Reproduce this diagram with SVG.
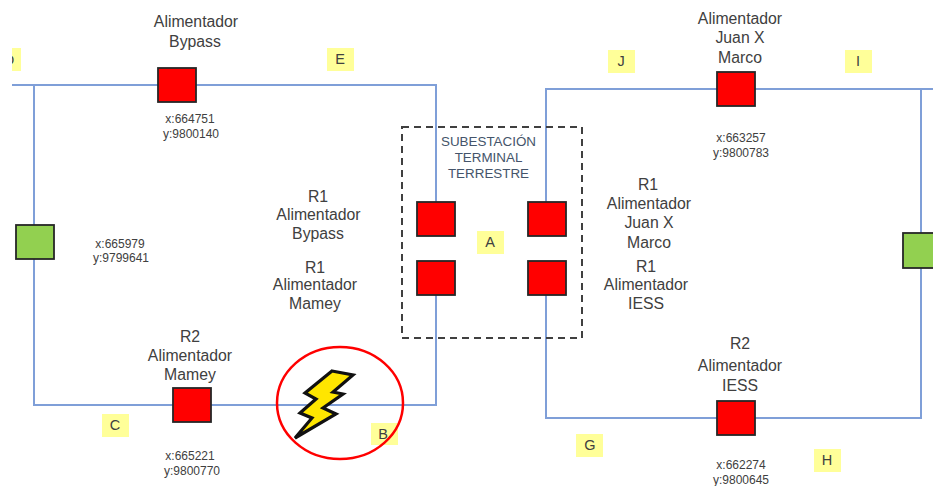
<svg xmlns="http://www.w3.org/2000/svg" width="933" height="486" viewBox="0 0 933 486">
<style>
text{font-family:"Liberation Sans",Arial,sans-serif;fill:#404040;text-anchor:middle}
.t{font-size:15.8px}
.c{font-size:12px}
.s{font-size:13.4px;fill:#44546a}
.l{font-size:14.5px}
.y{fill:#ffff99}
.r{fill:#ff0000;stroke:#262626;stroke-width:1.8}
.g{fill:#92d050;stroke:#262626;stroke-width:1.8}
.w{fill:none;stroke:#7f9fd8;stroke-width:2}
</style>
<defs><clipPath id="edge"><rect x="12" y="48" width="9" height="23"/></clipPath></defs>
<g id="connectors">
<path class="w" d="M436 202V85H12M34 85V405H436V295"/>
<path class="w" d="M546 202V89H933M921 89V418H546V295"/>
</g>
<g id="substation">
<rect x="402" y="127" width="180" height="211" fill="none" stroke="#404040" stroke-width="2" stroke-dasharray="7 5"/>
<text class="s" x="488.500" y="146">SUBESTACIÓN</text>
<text class="s" x="488.500" y="162">TERMINAL</text>
<text class="s" x="488.500" y="178">TERRESTRE</text>
</g>
<g id="n-bypass"><rect class="r" x="158" y="68" width="38" height="34"/>
<text class="t" x="196" y="27">Alimentador</text><text class="t" x="195" y="47">Bypass</text>
<text class="c" x="190" y="123">x:664751</text><text class="c" x="191" y="138">y:9800140</text></g>
<g id="n-green-left"><rect class="g" x="16" y="225" width="38" height="34"/>
<text class="c" x="120" y="248">x:665979</text><text class="c" x="121" y="262">y:9799641</text></g>
<g id="n-mamey"><rect class="r" x="173" y="388" width="38" height="34"/>
<text class="t" x="190" y="342">R2</text><text class="t" x="190" y="361">Alimentador</text><text class="t" x="190" y="380">Mamey</text>
<text class="c" x="190" y="460">x:665221</text><text class="c" x="192" y="475">y:9800770</text></g>
<g id="n-a1"><rect class="r" x="417" y="202" width="38" height="34"/></g>
<g id="n-a2"><rect class="r" x="528" y="202" width="38" height="34"/></g>
<g id="n-a3"><rect class="r" x="417" y="261" width="38" height="34"/></g>
<g id="n-a4"><rect class="r" x="528" y="261" width="38" height="34"/></g>
<g id="n-juan"><rect class="r" x="717" y="72" width="38" height="34"/>
<text class="t" x="740" y="24">Alimentador</text><text class="t" x="740" y="43">Juan X</text><text class="t" x="740" y="63">Marco</text>
<text class="c" x="741" y="142">x:663257</text><text class="c" x="741" y="157">y:9800783</text></g>
<g id="n-iess"><rect class="r" x="717" y="401" width="38" height="34"/>
<text class="t" x="740" y="349">R2</text><text class="t" x="740" y="371">Alimentador</text><text class="t" x="740" y="391">IESS</text>
<text class="c" x="741" y="469">x:662274</text><text class="c" x="741" y="484">y:9800645</text></g>
<g id="n-green-right"><rect class="g" x="903" y="233" width="38" height="35"/></g>
<g id="labels-r1">
<text class="t" x="318" y="202">R1</text><text class="t" x="318.500" y="220">Alimentador</text><text class="t" x="318" y="239">Bypass</text>
<text class="t" x="315" y="273">R1</text><text class="t" x="315" y="290">Alimentador</text><text class="t" x="315" y="309">Mamey</text>
<text class="t" x="648" y="190">R1</text><text class="t" x="649" y="209">Alimentador</text><text class="t" x="649" y="228">Juan X</text><text class="t" x="649" y="248">Marco</text>
<text class="t" x="646" y="272">R1</text><text class="t" x="646" y="290">Alimentador</text><text class="t" x="646" y="309">IESS</text>
</g>
<g id="tag-O"><rect class="y" x="12" y="48" width="9" height="23"/><text class="l" x="9" y="65" clip-path="url(#edge)">D</text></g>
<g id="tag-E"><rect class="y" x="327" y="48" width="27" height="23"/><text class="l" x="340" y="64">E</text></g>
<g id="tag-J"><rect class="y" x="608" y="50" width="27" height="23"/><text class="l" x="621" y="66">J</text></g>
<g id="tag-I"><rect class="y" x="845" y="50" width="27" height="23"/><text class="l" x="858" y="66">I</text></g>
<g id="tag-A"><rect class="y" x="477" y="231" width="27" height="23"/><text class="l" x="490" y="247">A</text></g>
<g id="tag-C"><rect class="y" x="102" y="414" width="27" height="23"/><text class="l" x="115" y="430">C</text></g>
<g id="tag-B"><rect class="y" x="371" y="423" width="27" height="22"/><text class="l" x="383" y="439">B</text></g>
<g id="tag-G"><rect class="y" x="576" y="434" width="27" height="23"/><text class="l" x="590" y="450">G</text></g>
<g id="tag-H"><rect class="y" x="814" y="449" width="27" height="23"/><text class="l" x="827" y="465">H</text></g>
<g id="fault">
<ellipse cx="340" cy="403" rx="63" ry="56" fill="none" stroke="#ff0000" stroke-width="2.5"/>
<path d="M332 371L353 375L333 392L343 394L323 408L336 414L295 438L312 418L300 413L316 399L305 393Z" fill="#ffe600" stroke="#111" stroke-width="3.2" stroke-linejoin="miter"/>
</g>
</svg>
